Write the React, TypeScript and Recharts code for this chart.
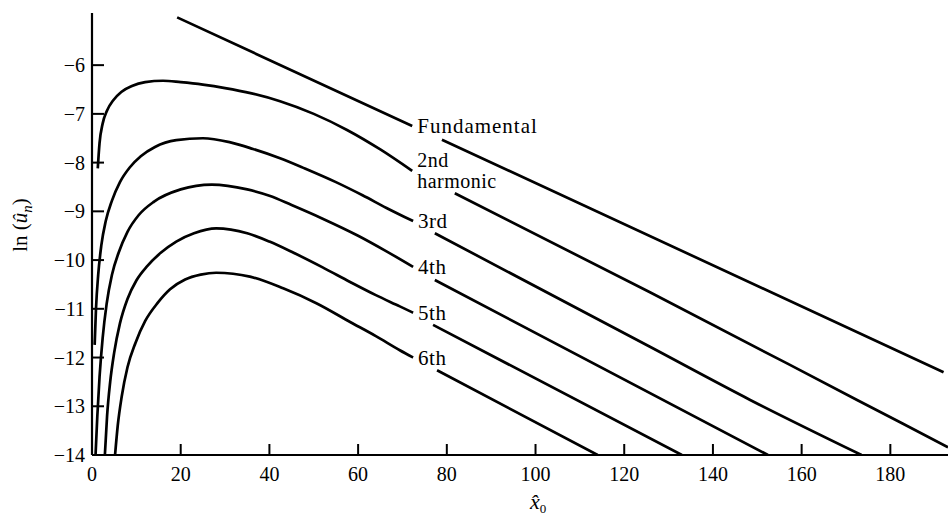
import React from 'react';
import { LineChart, Line, XAxis, YAxis } from 'recharts';

type Pt = { x: number; y: number | null };

const xTicks = [0, 20, 40, 60, 80, 100, 120, 140, 160, 180];
const yTicks = [-14, -13, -12, -11, -10, -9, -8, -7, -6];

const fundamental: Pt[] = [
  { x: 19.2, y: -5.02 }, { x: 72.2, y: -7.25 }, { x: 75.5, y: null },
  { x: 78.9, y: -7.53 }, { x: 192, y: -12.3 },
];

const second: Pt[] = [
  { x: 1.3, y: -8.12 }, { x: 1.7, y: -7.6 }, { x: 2.4, y: -7.2 }, { x: 3.4, y: -6.93 },
  { x: 4.8, y: -6.72 }, { x: 6.6, y: -6.55 }, { x: 9, y: -6.43 }, { x: 12, y: -6.35 },
  { x: 16, y: -6.32 }, { x: 20, y: -6.35 }, { x: 25, y: -6.4 }, { x: 30, y: -6.47 },
  { x: 36, y: -6.58 }, { x: 42.4, y: -6.74 }, { x: 50, y: -7.0 }, { x: 57.5, y: -7.33 },
  { x: 65, y: -7.73 }, { x: 72.2, y: -8.17 }, { x: 77, y: null }, { x: 81.8, y: -8.63 },
  { x: 125.8, y: -10.66 }, { x: 172.5, y: -12.87 }, { x: 193, y: -13.84 },
];

const third: Pt[] = [
  { x: 0.6, y: -11.74 }, { x: 0.9, y: -11.0 }, { x: 1.4, y: -10.3 }, { x: 2.1, y: -9.7 },
  { x: 3.1, y: -9.2 }, { x: 4.5, y: -8.78 }, { x: 6.3, y: -8.4 }, { x: 8.5, y: -8.1 },
  { x: 11, y: -7.87 }, { x: 14.2, y: -7.68 }, { x: 19, y: -7.54 }, { x: 25, y: -7.5 },
  { x: 31, y: -7.58 }, { x: 36.3, y: -7.72 }, { x: 42.4, y: -7.91 }, { x: 48, y: -8.12 },
  { x: 55, y: -8.4 }, { x: 61, y: -8.67 }, { x: 66.4, y: -8.93 }, { x: 72.4, y: -9.2 },
  { x: 75, y: null }, { x: 77.3, y: -9.45 }, { x: 125.8, y: -11.78 }, { x: 148.4, y: -12.87 },
  { x: 173.5, y: -14 },
];

const fourth: Pt[] = [
  { x: 0.8, y: -14 }, { x: 1.2, y: -13.2 }, { x: 1.7, y: -12.4 }, { x: 2.4, y: -11.6 },
  { x: 3.3, y: -10.9 }, { x: 4.5, y: -10.3 }, { x: 6.0, y: -9.85 }, { x: 8.0, y: -9.42 },
  { x: 10.5, y: -9.08 }, { x: 14, y: -8.8 }, { x: 20, y: -8.55 }, { x: 27, y: -8.45 },
  { x: 35, y: -8.55 }, { x: 40, y: -8.68 }, { x: 45, y: -8.87 }, { x: 52, y: -9.15 },
  { x: 60, y: -9.5 }, { x: 66, y: -9.8 }, { x: 72.4, y: -10.14 }, { x: 75, y: null },
  { x: 77.3, y: -10.41 }, { x: 152.4, y: -14 },
];

const fifth: Pt[] = [
  { x: 2.9, y: -14 }, { x: 3.4, y: -13.2 }, { x: 4.1, y: -12.5 }, { x: 5.0, y: -11.9 },
  { x: 6.3, y: -11.3 }, { x: 8, y: -10.8 }, { x: 10, y: -10.42 }, { x: 12.5, y: -10.12 },
  { x: 15.5, y: -9.85 }, { x: 19, y: -9.62 }, { x: 23, y: -9.45 }, { x: 28, y: -9.35 },
  { x: 35, y: -9.45 }, { x: 40, y: -9.62 }, { x: 45, y: -9.83 }, { x: 52, y: -10.15 },
  { x: 58.2, y: -10.45 }, { x: 64, y: -10.72 }, { x: 69.4, y: -10.95 }, { x: 72.4, y: -11.08 },
  { x: 75, y: null }, { x: 76.9, y: -11.33 }, { x: 133, y: -14 },
];

const sixth: Pt[] = [
  { x: 5.2, y: -14 }, { x: 5.8, y: -13.4 }, { x: 6.7, y: -12.8 }, { x: 8, y: -12.2 },
  { x: 9.8, y: -11.7 }, { x: 12, y: -11.25 }, { x: 14.8, y: -10.88 }, { x: 17.6, y: -10.6 },
  { x: 21, y: -10.4 }, { x: 24.5, y: -10.3 }, { x: 28, y: -10.26 }, { x: 35.6, y: -10.34 },
  { x: 43.1, y: -10.58 }, { x: 50.7, y: -10.89 }, { x: 58.2, y: -11.27 }, { x: 64, y: -11.56 },
  { x: 69.4, y: -11.85 }, { x: 72.4, y: -12.0 }, { x: 75, y: null }, { x: 77.8, y: -12.26 },
  { x: 114, y: -14 },
];

const seriesList = [
  { key: 'fund', data: fundamental, labelX: 72.2, lines: ['Fundamental'], type: 'linear' },
  { key: 'h2', data: second, labelX: 72.2, lines: ['2nd', 'harmonic'], type: 'monotone' },
  { key: 'h3', data: third, labelX: 72.4, lines: ['3rd'], type: 'monotone' },
  { key: 'h4', data: fourth, labelX: 72.4, lines: ['4th'], type: 'monotone' },
  { key: 'h5', data: fifth, labelX: 72.4, lines: ['5th'], type: 'monotone' },
  { key: 'h6', data: sixth, labelX: 72.4, lines: ['6th'], type: 'monotone' },
];

const FONT = '"Liberation Serif", "DejaVu Serif", serif';

const makeDot = (labelX: number, lines: string[], k: string) => (props: any) => {
  const { cx, cy, payload, index } = props;
  if (!payload || payload.x !== labelX || cy == null || cx == null) {
    return <g key={`${k}-d-${index}`} />;
  }
  const tx = cx + 5;
  if (lines.length > 1) {
    return (
      <g key={`${k}-lbl`}>
        {lines.map((l, i) => (
          <text key={i} x={tx} y={cy - 4 + i * 21} fontFamily={FONT} fontSize={20} fill="#000"
            letterSpacing={0.5}>{l}</text>
        ))}
      </g>
    );
  }
  return (
    <text key={`${k}-lbl`} x={tx} y={cy + 7} fontFamily={FONT} fontSize={21} fill="#000"
      letterSpacing={lines[0] === 'Fundamental' ? 1 : 0.5}>
      {lines[0]}
    </text>
  );
};

const fmt = (v: number) => (v < 0 ? '\u2212' + Math.abs(v) : String(v));

const XTick = (props: any) => {
  const { x, y, payload } = props;
  return (
    <g>
      <line x1={x} x2={x} y1={y} y2={y - 11} stroke="#000" strokeWidth={2} />
      <text x={x} y={y + 26} textAnchor="middle" fontFamily={FONT} fontSize={20} fill="#000">
        {String(payload.value)}
      </text>
    </g>
  );
};

const YTick = (props: any) => {
  const { x, y, payload } = props;
  return (
    <g>
      <line x1={x} x2={x + 12} y1={y} y2={y} stroke="#000" strokeWidth={2} />
      <text x={x - 7} y={y} dy="0.35em" textAnchor="end" fontFamily={FONT} fontSize={20} fill="#000">
        {fmt(payload.value)}
      </text>
    </g>
  );
};

const YLabel = (props: any) => {
  const vb = props.viewBox || { x: 0, y: 13, width: 92, height: 442 };
  const cx = vb.x + 27;
  const cy = vb.y + vb.height / 2 - 9;
  return (
    <text x={cx} y={cy} transform={`rotate(-90 ${cx} ${cy})`} textAnchor="middle"
      fontFamily={FONT} fontSize={21} fill="#000">
      <tspan>ln (</tspan>
      <tspan fontStyle="italic">û</tspan>
      <tspan fontStyle="italic" fontSize={15} dy={5}>n</tspan>
      <tspan dy={-5}>)</tspan>
    </text>
  );
};

const XLabel = (props: any) => {
  const vb = props.viewBox || { x: 92, y: 455, width: 856, height: 63 };
  const cx = vb.x + vb.width / 2 + 10;
  const cy = vb.y + 54;
  return (
    <text x={cx} y={cy} fontFamily={FONT} fontSize={22} fill="#000">
      <tspan fontStyle="italic">{'x\u0302'}</tspan>
      <tspan fontSize={13} dy={4}>0</tspan>
    </text>
  );
};

export default function App() {
  return (
    <div style={{ position: 'absolute', left: 0, top: 0, background: '#fff' }}>
      <LineChart width={950} height={518} margin={{ top: 13, right: 2, left: 0, bottom: 0 }}>
        <XAxis
          type="number"
          dataKey="x"
          domain={[0, 193]}
          ticks={xTicks}
          allowDataOverflow
          height={63}
          tickSize={0}
          tickMargin={0}
          axisLine={{ stroke: '#000', strokeWidth: 2 }}
          tickLine={false}
          tick={<XTick />}
          label={<XLabel />}
        />
        <YAxis
          type="number"
          domain={[-14, -4.93]}
          ticks={yTicks}
          allowDataOverflow
          width={92}
          tickSize={0}
          tickMargin={0}
          axisLine={{ stroke: '#000', strokeWidth: 2.2 }}
          tickLine={false}
          tick={<YTick />}
          label={<YLabel />}
        />
        {seriesList.map((s) => (
          <Line
            key={s.key}
            data={s.data}
            dataKey="y"
            type={s.type as any}
            stroke="#000"
            strokeWidth={2.7}
            dot={makeDot(s.labelX, s.lines, s.key)}
            activeDot={false}
            isAnimationActive={false}
            connectNulls={false}
          />
        ))}
      </LineChart>
    </div>
  );
}
